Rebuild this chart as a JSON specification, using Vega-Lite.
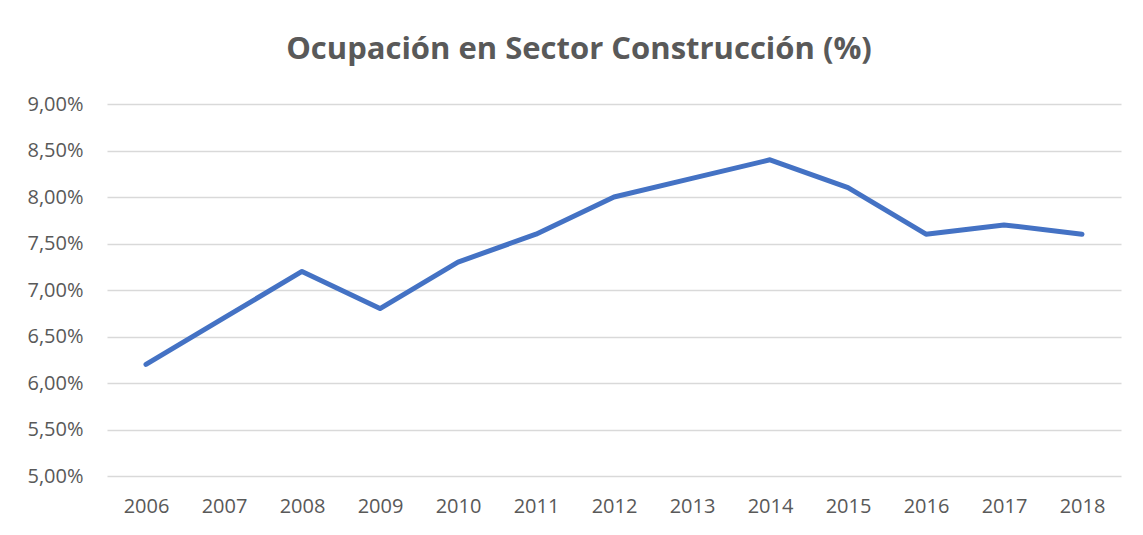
{
  "$schema": "https://vega.github.io/schema/vega-lite/v6.json",
  "autosize": "none",
  "width": 1014,
  "height": 372,
  "padding": {"left": 107, "top": 104, "right": 22, "bottom": 59},
  "background": "white",
  "title": {
    "text": "Ocupación en Sector Construcción (%)",
    "anchor": "middle",
    "font": "Open Sans",
    "fontSize": 31,
    "fontWeight": "bold",
    "color": "#595959",
    "offset": 28,
    "dx": -35
  },
  "config": {
    "view": {"stroke": null},
    "axis": {
      "labelFont": "Open Sans",
      "labelFontSize": 20,
      "labelColor": "#595959",
      "gridColor": "#d9d9d9",
      "gridWidth": 1.5,
      "domain": false,
      "ticks": false,
      "title": null
    }
  },
  "data": {
    "values": [
      {"year": "2006", "value": 6.2},
      {"year": "2007", "value": 6.7},
      {"year": "2008", "value": 7.2},
      {"year": "2009", "value": 6.8},
      {"year": "2010", "value": 7.3},
      {"year": "2011", "value": 7.6},
      {"year": "2012", "value": 8.0},
      {"year": "2013", "value": 8.2},
      {"year": "2014", "value": 8.4},
      {"year": "2015", "value": 8.1},
      {"year": "2016", "value": 7.6},
      {"year": "2017", "value": 7.7},
      {"year": "2018", "value": 7.6}
    ]
  },
  "mark": {"type": "line", "color": "#4472C4", "strokeWidth": 5, "strokeCap": "round", "strokeJoin": "round"},
  "encoding": {
    "x": {
      "field": "year",
      "type": "ordinal",
      "scale": {"type": "point", "padding": 0.5},
      "axis": {"labelAngle": 0, "grid": false, "labelPadding": 20}
    },
    "y": {
      "field": "value",
      "type": "quantitative",
      "scale": {"domain": [5, 9], "nice": false, "zero": false},
      "axis": {
        "values": [5, 5.5, 6, 6.5, 7, 7.5, 8, 8.5, 9],
        "labelExpr": "replace(format(datum.value, '.2f'), '.', ',') + '%'",
        "labelPadding": 24
      }
    }
  }
}
